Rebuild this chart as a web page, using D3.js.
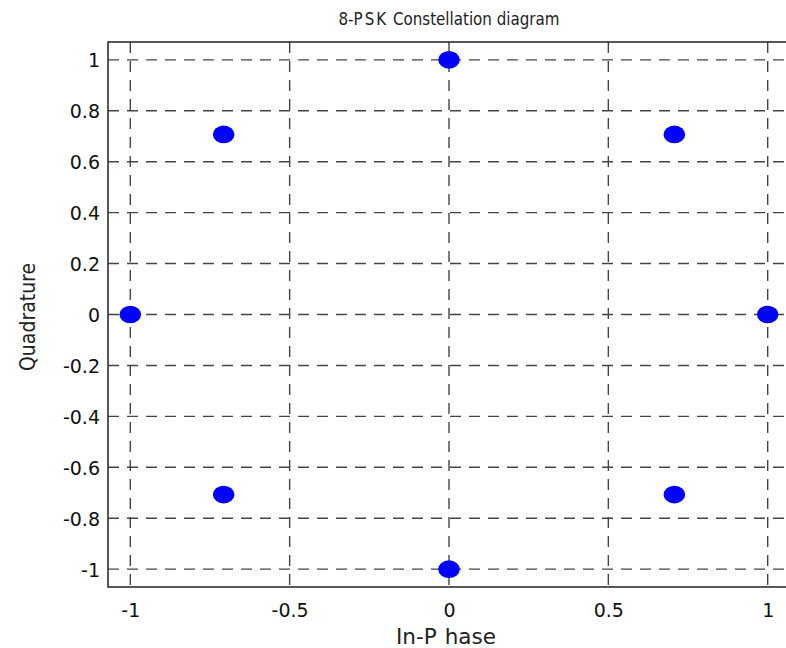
<!DOCTYPE html>
<html>
<head>
<meta charset="utf-8">
<script src="https://cdn.jsdelivr.net/npm/d3@7/dist/d3.min.js"></script>
<style>
  html, body { margin: 0; padding: 0; background: #fff; }
  svg { display: block; }
</style>
</head>
<body>
<svg id="chart" width="786" height="648"></svg>
<script>
// 8-PSK symbol positions (in-phase, quadrature)
const inPhase    = [1, 0.7071, 0, -0.7071, -1, -0.7071, 0, 0.7071];
const quadrature = [0, 0.7071, 1, 0.7071, 0, -0.7071, -1, -0.7071];

const xTickValues = [-1, -0.5, 0, 0.5, 1];
const xTickLabels = ["-1", "-0.5", "0", "0.5", "1"];
const yTickValues = [-1, -0.8, -0.6, -0.4, -0.2, 0, 0.2, 0.4, 0.6, 0.8, 1];
const yTickLabels = ["-1", "-0.8", "-0.6", "-0.4", "-0.2", "0", "0.2", "0.4", "0.6", "0.8", "1"];

const svg = d3.select("#chart");
const W = 786, H = 648;
const plotL = 108, plotR = 790, plotT = 42, plotB = 587;

const x = d3.scaleLinear().domain([-1.07, 1.07]).range([plotL, plotR]);
const y = d3.scaleLinear().domain([-1.07, 1.07]).range([plotB, plotT]);

const tickFont = "'DejaVu Sans', Verdana, sans-serif";
const condFont = "'DejaVu Sans Condensed', 'DejaVu Sans', sans-serif";

svg.append("rect").attr("width", W).attr("height", H).attr("fill", "#fff");

// dashed grid
const grid = svg.append("g")
  .attr("stroke", "#444")
  .attr("stroke-width", 1.4)
  .attr("stroke-dasharray", "11,8");
grid.selectAll("line.v").data(xTickValues).join("line")
  .attr("class", "v")
  .attr("x1", d => x(d)).attr("x2", d => x(d))
  .attr("y1", plotT).attr("y2", plotB);
grid.selectAll("line.h").data(yTickValues).join("line")
  .attr("class", "h")
  .attr("x1", plotL).attr("x2", plotR)
  .attr("y1", d => y(d)).attr("y2", d => y(d));

// axes (labels only; grid drawn above)
const xAxis = d3.axisBottom(x)
  .tickValues(xTickValues)
  .tickFormat((d, i) => xTickLabels[i])
  .tickSize(0).tickPadding(0);
const gx = svg.append("g").attr("transform", `translate(0,${plotB})`).call(xAxis);
gx.select(".domain").remove();
gx.selectAll("text")
  .attr("y", 30).attr("dy", 0)
  .attr("font-family", tickFont).attr("font-size", 19).attr("fill", "#111");

const yAxis = d3.axisLeft(y)
  .tickValues(yTickValues)
  .tickFormat((d, i) => yTickLabels[i])
  .tickSize(0).tickPadding(0);
const gy = svg.append("g").attr("transform", `translate(${plotL},0)`).call(yAxis);
gy.select(".domain").remove();
gy.selectAll("text")
  .attr("x", -8).attr("dy", "0.36em")
  .attr("font-family", tickFont).attr("font-size", 19).attr("fill", "#111");

// plot frame
svg.append("rect")
  .attr("x", plotL).attr("y", plotT)
  .attr("width", plotR - plotL).attr("height", plotB - plotT)
  .attr("fill", "none").attr("stroke", "#222").attr("stroke-width", 1.5);

// constellation points
svg.append("g").selectAll("ellipse")
  .data(inPhase.map((v, i) => ({ i: v, q: quadrature[i] })))
  .join("ellipse")
  .attr("cx", d => x(d.i))
  .attr("cy", d => y(d.q))
  .attr("rx", 10.8).attr("ry", 8.8)
  .attr("fill", "#0000ff");

// title
const title = svg.append("text")
  .attr("x", 449).attr("y", 25)
  .attr("text-anchor", "middle")
  .attr("font-family", condFont).attr("font-size", 16.8).attr("fill", "#222");
title.append("tspan").text("8-");
title.append("tspan").attr("letter-spacing", 2).text("PSK");
title.append("tspan").text(" Constellation diagram");

// axis titles
const xt = svg.append("text")
  .attr("x", 446).attr("y", 644)
  .attr("text-anchor", "middle")
  .attr("font-family", tickFont).attr("font-size", 21.5).attr("fill", "#222");
xt.append("tspan").text("In-");
xt.append("tspan").attr("letter-spacing", 8).text("P");
xt.append("tspan").text("hase");

svg.append("text")
  .attr("transform", "translate(35,317) rotate(-90)")
  .attr("text-anchor", "middle")
  .attr("font-family", condFont).attr("font-size", 21).attr("fill", "#222")
  .text("Quadrature");
</script>
</body>
</html>
